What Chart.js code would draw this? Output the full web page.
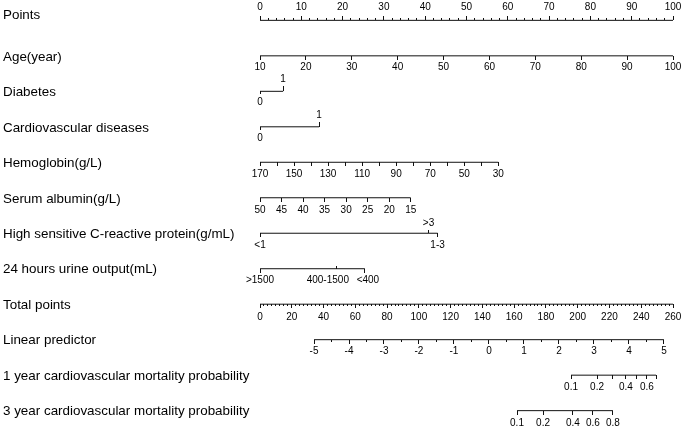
<!DOCTYPE html>
<html>
<head>
<meta charset="utf-8">
<script src="https://cdn.jsdelivr.net/npm/chart.js@4.4.0/dist/chart.umd.min.js"></script>
<style>
  html, body { margin: 0; padding: 0; background: #fff; }
  #wrap { width: 685px; height: 431px; }
</style>
</head>
<body>
<div id="wrap"><canvas id="nomogram" width="685" height="431"></canvas></div>
<script>
// Row names, top to bottom
const rowNames = [
    'Points',
    'Age(year)',
    'Diabetes',
    'Cardiovascular diseases',
    'Hemoglobin(g/L)',
    'Serum albumin(g/L)',
    'High sensitive C-reactive protein(g/mL)',
    '24 hours urine output(mL)',
    'Total points',
    'Linear predictor',
    '1 year cardiovascular mortality probability',
    '3 year cardiovascular mortality probability'
];

// Points scale (0-100)
const pointsTicks = [0, 10, 20, 30, 40, 50, 60, 70, 80, 90, 100];

// Age: tick values, points at first and last tick
const ageTicks = [10, 20, 30, 40, 50, 60, 70, 80, 90, 100];
const agePoints = [0, 100];

// Binary predictors: values 0/1 and their points
const diabetesValues = [0, 1];
const diabetesPoints = [0, 5.6];
const cvdValues = [0, 1];
const cvdPoints = [0, 14.3];

// Hemoglobin: ticks, labelled ticks, points at first and last tick
const hbTicks = [170, 160, 150, 140, 130, 120, 110, 100, 90, 80, 70, 60, 50, 40, 30];
const hbLabels = [170, 150, 130, 110, 90, 70, 50, 30];
const hbPoints = [0, 57.7];

// Serum albumin
const albuminTicks = [50, 45, 40, 35, 30, 25, 20, 15];
const albuminPoints = [0, 36.5];

// hs-CRP categories and their points
const crpCategories = ['<1', '1-3', '>3'];
const crpPoints = [0, 43.0, 40.8];

// 24 h urine output categories and their points
const urineCategories = ['>1500', '400-1500', '<400'];
const urinePoints = [0, 18.6, 25.4];

// Total points (0-260)
const totalTicks = [0, 20, 40, 60, 80, 100, 120, 140, 160, 180, 200, 220, 240, 260];

// Linear predictor: ticks, half-step ticks, total points at -5 and 5
const lpTicks = [-5, -4, -3, -2, -1, 0, 1, 2, 3, 4, 5];
const lpHalfTicks = [-4.5, -3.5, -2.5, -1.5, -0.5, 0.5, 1.5, 2.5, 3.5, 4.5];
const lpTotalPoints = [34.0, 254.3];

// 1 year mortality probability: tick values and their total points
const prob1Values = [0.1, 0.2, 0.3, 0.4, 0.5, 0.6, 0.7];
const prob1Total = [195.8, 212.2, 222.2, 230.4, 237.3, 243.6, 249.3];
const prob1Labels = [0.1, 0.2, 0.4, 0.6];

// 3 year mortality probability
const prob3Values = [0.1, 0.2, 0.4, 0.6, 0.8];
const prob3Total = [161.8, 178.2, 197.0, 209.6, 222.2];

const INK = '#111';
const TEXT = '#000';
Chart.defaults.font.family = '"Liberation Sans", Arial, Helvetica, sans-serif';

// value range of a linear predictor axis that spans 0..full points
function linRange(vals, pts, full) {
    const slope = (pts[1] - pts[0]) / (vals[1] - vals[0]);
    const a = vals[0] - pts[0] / slope;
    const b = vals[0] + (full - pts[0]) / slope;
    return slope > 0 ? { min: a, max: b, reverse: false } : { min: b, max: a, reverse: true };
}

// one horizontal axis drawn at a row of the y scale
function rowAxis(row, range, o) {
    const up = !!o.up;
    const len = o.len || 4;
    const cfg = {
        type: 'linear',
        axis: 'x',
        position: { y: row },
        min: range.min,
        max: range.max,
        reverse: !!range.reverse,
        grid: {
            display: true,
            drawOnChartArea: false,
            drawTicks: true,
            tickLength: up ? -len : len,
            tickWidth: 1,
            tickColor: o.noTick ? 'rgba(0,0,0,0)' : INK
        },
        border: { display: false },
        ticks: {
            autoSkip: false,
            maxRotation: 0,
            minRotation: 0,
            padding: o.pad !== undefined ? o.pad : (up ? -13 : 2),
            labelOffset: o.shift || 0,
            color: TEXT,
            font: { size: 10 },
            callback: o.label || (() => '')
        }
    };
    if (o.ticks) {
        cfg.afterBuildTicks = s => { s.ticks = o.ticks.map(v => ({ value: v })); };
    } else {
        cfg.ticks.stepSize = o.step;
    }
    return cfg;
}

const P = { min: 0, max: 100 };
const T = { min: 0, max: 260 };
const ageRange = linRange([ageTicks[0], ageTicks[ageTicks.length - 1]], agePoints, 100);
const diaRange = linRange(diabetesValues, diabetesPoints, 100);
const cvdRange = linRange(cvdValues, cvdPoints, 100);
const hbRange = linRange([hbTicks[0], hbTicks[hbTicks.length - 1]], hbPoints, 100);
const albRange = linRange([albuminTicks[0], albuminTicks[albuminTicks.length - 1]], albuminPoints, 100);
const lpRange = linRange([lpTicks[0], lpTicks[lpTicks.length - 1]], lpTotalPoints, 260);

const scales = {
    y: {
        type: 'linear',
        position: 'left',
        reverse: true,
        min: -0.3472,
        max: 11.3472,
        // the Points name sits a little above its axis line
        afterBuildTicks: s => { s.ticks = rowNames.map((_, i) => ({ value: i === 0 ? i - 0.14 : i + 0.03 })); },
        afterFit: s => { s.width = 257; },
        grid: { display: false },
        border: { display: false },
        ticks: {
            autoSkip: false,
            crossAlign: 'far',
            padding: 0,
            color: TEXT,
            font: { size: 13.4 },
            callback: (v, i) => rowNames[i]
        }
    },
    pts: rowAxis(0, P, { ticks: pointsTicks, label: v => String(v), up: true, len: 4, pad: -15.5 }),
    ptsMinor: rowAxis(0, P, { step: 2, up: true, len: 2 }),
    age: rowAxis(1, ageRange, { ticks: ageTicks, label: v => String(v), pad: 1.5 }),
    dia: rowAxis(2, diaRange, { ticks: [diabetesValues[0]], label: v => String(v), len: 3 }),
    diaUp: rowAxis(2, diaRange, { ticks: [diabetesValues[1]], label: v => String(v), up: true, len: 5 }),
    cvd: rowAxis(3, cvdRange, { ticks: [cvdValues[0]], label: v => String(v), len: 3 }),
    cvdUp: rowAxis(3, cvdRange, { ticks: [cvdValues[1]], label: v => String(v), up: true, len: 5 }),
    hb: rowAxis(4, hbRange, { ticks: hbTicks, label: v => hbLabels.includes(v) ? String(v) : '' }),
    alb: rowAxis(5, albRange, { ticks: albuminTicks, label: v => String(v) }),
    crp: rowAxis(6, P, { ticks: [crpPoints[0], crpPoints[1]], label: (v, i) => crpCategories[i] }),
    crpUp: rowAxis(6, P, { ticks: [crpPoints[2]], label: () => crpCategories[2], up: true, len: 3 }),
    urine: rowAxis(7, P, { ticks: [urinePoints[0]], label: () => urineCategories[0] }),
    urineEnd: rowAxis(7, P, { ticks: [urinePoints[2]], label: () => urineCategories[2], shift: 3 }),
    urineMid: rowAxis(7, P, { ticks: [urinePoints[1]], label: () => urineCategories[1], noTick: true, shift: -9 }),
    urineUp: rowAxis(7, P, { ticks: [urinePoints[1]], up: true, len: 3 }),
    tot: rowAxis(8, T, { ticks: totalTicks, label: v => String(v), pad: 3 }),
    totMinor: rowAxis(8, T, { step: 2.5, len: 2 }),
    lp: rowAxis(9, lpRange, { ticks: lpTicks, label: v => String(v) }),
    lpMinor: rowAxis(9, lpRange, { ticks: lpHalfTicks, len: 2 }),
    p1: rowAxis(10, T, { ticks: prob1Total, label: (v, i) => prob1Labels.includes(prob1Values[i]) ? String(prob1Values[i]) : '' }),
    p3: rowAxis(11, T, { ticks: prob3Total, label: (v, i) => String(prob3Values[i]), pad: 3 })
};

// the line of each row, in that row's own axis units
const rowLines = [
    ['pts', pointsTicks[0], pointsTicks[pointsTicks.length - 1]],
    ['age', ageTicks[0], ageTicks[ageTicks.length - 1]],
    ['dia', diabetesValues[0], diabetesValues[1]],
    ['cvd', cvdValues[0], cvdValues[1]],
    ['hb', hbTicks[0], hbTicks[hbTicks.length - 1]],
    ['alb', albuminTicks[0], albuminTicks[albuminTicks.length - 1]],
    ['crp', crpPoints[0], Math.max(...crpPoints)],
    ['urine', urinePoints[0], Math.max(...urinePoints)],
    ['tot', totalTicks[0], totalTicks[totalTicks.length - 1]],
    ['lp', lpTicks[0], lpTicks[lpTicks.length - 1]],
    ['p1', prob1Total[0], prob1Total[prob1Total.length - 1]],
    ['p3', prob3Total[0], prob3Total[prob3Total.length - 1]]
];

const datasets = rowLines.map((r, i) => ({
    label: rowNames[i],
    xAxisID: r[0],
    yAxisID: 'y',
    data: [{ x: r[1], y: i }, { x: r[2], y: i }],
    showLine: true,
    borderColor: INK,
    borderWidth: 1,
    pointRadius: 0,
    pointHoverRadius: 0
}));

new Chart(document.getElementById('nomogram').getContext('2d'), {
    type: 'scatter',
    data: { datasets: datasets },
    options: {
        responsive: false,
        animation: false,
        devicePixelRatio: 1,
        layout: { padding: { left: 3, right: 12, top: 5, bottom: 5 } },
        plugins: {
            legend: { display: false },
            tooltip: { enabled: false }
        },
        scales: scales
    }
});
</script>
</body>
</html>
